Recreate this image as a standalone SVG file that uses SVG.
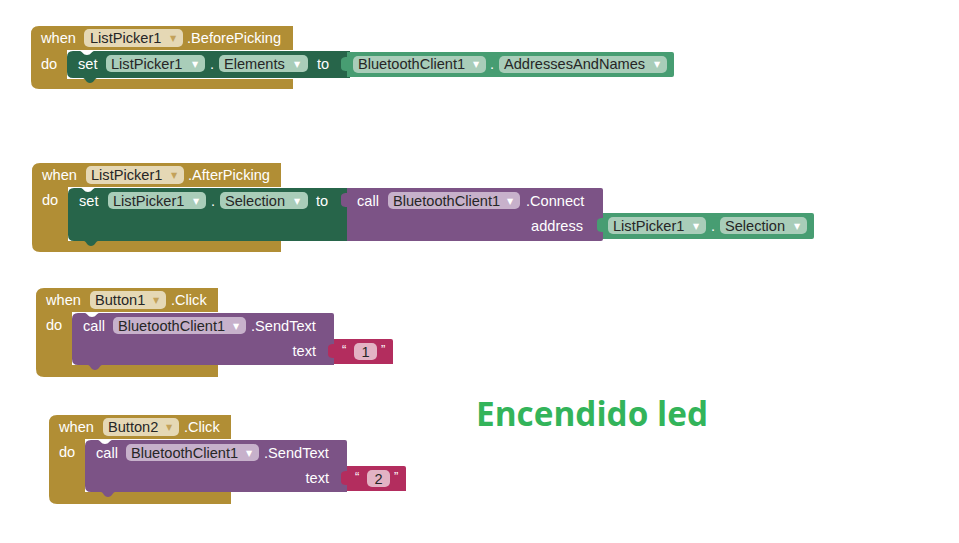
<svg xmlns="http://www.w3.org/2000/svg" width="959" height="543" viewBox="0 0 959 543">
<defs>
<style>
.ev{fill:#B18E35}
.dg{fill:#27654A}
.lg{fill:#479D72}
.pu{fill:#7C5386}
.pk{fill:#B32D5E}
.t{font-family:"Liberation Sans",Arial,sans-serif;font-size:14.6px;fill:#ffffff}
.pt{font-family:"Liberation Sans",Arial,sans-serif;font-size:14.6px;fill:#262626}
.ar{font-family:"DejaVu Sans",sans-serif;font-size:8px}
.pg{fill:#E5D8B5}
.pgr{fill:#A9CDB9}
.ppu{fill:#C7B1CB}
.ppk{fill:#E3B3C4}
.ag{fill:#C3A25A}
.aw{fill:#ffffff}
.q{font-family:"Liberation Sans",Arial,sans-serif;font-size:13px;fill:#ffffff}
</style>
</defs>
<rect width="959" height="543" fill="#ffffff"/>

<g id="event1">
<path class="ev" d="M39,26 H293 V50 H67 V79 H293 V89 H39 Q31,89 31,81 V34 Q31,26 39,26 Z"/>
<text class="t" x="41" y="43">when</text>
<rect class="pg" x="84" y="29" width="99" height="18" rx="5"/>
<text class="pt" x="90" y="43">ListPicker1</text>
<text class="ar ag" x="170" y="41">▼</text>
<text class="t" x="187" y="43">.BeforePicking</text>
<text class="t" x="41" y="69">do</text>
</g>
<g id="set1">
<path class="dg" d="M73,51 H80 C82,51 83,55 87,55 C91,55 92,51 94,51 H350 V78 H97 C95,78 94,83 90,83 C86,83 85,78 83,78 H73 Q67,78 67,72 V57 Q67,51 73,51 Z"/>
<text class="t" x="78" y="69">set</text>
<rect class="pgr" x="106" y="55" width="99" height="17" rx="5"/>
<text class="pt" x="111" y="69">ListPicker1</text>
<text class="ar aw" x="192" y="67">▼</text>
<text class="t" x="210" y="69">.</text>
<rect class="pgr" x="219" y="55" width="89" height="17" rx="5"/>
<text class="pt" x="224" y="69">Elements</text>
<text class="ar aw" x="294" y="67">▼</text>
<text class="t" x="317" y="69">to</text>
</g>
<g id="value1">
<path class="lg" d="M347,52 H672 Q674,52 674,54 V75 Q674,77 672,77 H347 V71 C343,71 341,70 341,67 V61 C341,58 343,57 347,57 Z"/>
<rect class="pgr" x="353" y="56" width="133" height="17" rx="5"/>
<text class="pt" x="358" y="69">BluetoothClient1</text>
<text class="ar aw" x="473" y="67">▼</text>
<text class="t" x="490" y="69">.</text>
<rect class="pgr" x="499" y="56" width="168" height="17" rx="5"/>
<text class="pt" x="504" y="69">AddressesAndNames</text>
<text class="ar aw" x="654" y="67">▼</text>
</g>

<g id="event2">
<path class="ev" d="M40,163 H281 V187 H68 V241 H281 V252 H40 Q32,252 32,244 V171 Q32,163 40,163 Z"/>
<text class="t" x="42" y="180">when</text>
<rect class="pg" x="86" y="166" width="98" height="18" rx="5"/>
<text class="pt" x="91" y="180">ListPicker1</text>
<text class="ar ag" x="171" y="178">▼</text>
<text class="t" x="188" y="180">.AfterPicking</text>
<text class="t" x="42" y="205">do</text>
</g>
<g id="set2">
<path class="dg" d="M74,188 H81 C83,188 84,192 88,192 C92,192 93,188 95,188 H350 V241 H98 C96,241 95,246 91,246 C87,246 86,241 84,241 H74 Q68,241 68,235 V194 Q68,188 74,188 Z"/>
<text class="t" x="79" y="206">set</text>
<rect class="pgr" x="108" y="192" width="98" height="17" rx="5"/>
<text class="pt" x="113" y="206">ListPicker1</text>
<text class="ar aw" x="193" y="204">▼</text>
<text class="t" x="211" y="206">.</text>
<rect class="pgr" x="220" y="192" width="88" height="17" rx="5"/>
<text class="pt" x="225" y="206">Selection</text>
<text class="ar aw" x="294" y="204">▼</text>
<text class="t" x="316" y="206">to</text>
</g>
<g id="call2">
<path class="pu" d="M347,188 H601 Q603,188 603,190 V239 Q603,241 601,241 H347 V207 C343,207 341,206 341,203 V197 C341,194 343,193 347,193 Z"/>
<text class="t" x="357" y="206">call</text>
<rect class="ppu" x="388" y="192" width="132" height="17" rx="5"/>
<text class="pt" x="393" y="206">BluetoothClient1</text>
<text class="ar aw" x="507" y="204">▼</text>
<text class="t" x="526" y="206">.Connect</text>
<text class="t" x="583" y="231" text-anchor="end">address</text>
</g>
<g id="value2">
<path class="lg" d="M603,213 H812 Q814,213 814,215 V237 Q814,239 812,239 H603 V232 C599,232 597,231 597,228 V222 C597,219 599,218 603,218 Z"/>
<rect class="pgr" x="608" y="217" width="98" height="17" rx="5"/>
<text class="pt" x="613" y="231">ListPicker1</text>
<text class="ar aw" x="693" y="229">▼</text>
<text class="t" x="711" y="231">.</text>
<rect class="pgr" x="720" y="217" width="87" height="17" rx="5"/>
<text class="pt" x="725" y="231">Selection</text>
<text class="ar aw" x="794" y="229">▼</text>
</g>

<g id="event3">
<path class="ev" d="M44,288 H218 V312 H72 V365 H218 V377 H44 Q36,377 36,369 V296 Q36,288 44,288 Z"/>
<text class="t" x="46" y="305">when</text>
<rect class="pg" x="90" y="291" width="76" height="18" rx="5"/>
<text class="pt" x="95" y="305">Button1</text>
<text class="ar ag" x="153" y="303">▼</text>
<text class="t" x="171" y="305">.Click</text>
<text class="t" x="46" y="330">do</text>
</g>
<g id="call3">
<path class="pu" d="M78,313 H85 C87,313 88,317 92,317 C96,317 97,313 99,313 H332 Q334,313 334,315 V365 H102 C100,365 99,370 95,370 C91,370 90,365 88,365 H78 Q72,365 72,359 V319 Q72,313 78,313 Z"/>
<text class="t" x="83" y="331">call</text>
<rect class="ppu" x="113" y="317" width="133" height="17" rx="5"/>
<text class="pt" x="118" y="331">BluetoothClient1</text>
<text class="ar aw" x="233" y="329">▼</text>
<text class="t" x="251" y="331">.SendText</text>
<text class="t" x="316" y="356" text-anchor="end">text</text>
</g>
<g id="text3">
<path class="pk" d="M334,339 H391 Q393,339 393,341 V364 H334 V358 C330,358 328,357 328,354 V348 C328,345 330,344 334,344 Z"/>
<text class="q" x="342" y="354">“</text>
<rect class="ppk" x="354" y="343" width="23" height="17" rx="5"/>
<text class="pt" x="365.5" y="357" text-anchor="middle">1</text>
<text class="q" x="381" y="354">”</text>
</g>

<g id="event4">
<path class="ev" d="M57,415 H231 V439 H85 V492 H231 V504 H57 Q49,504 49,496 V423 Q49,415 57,415 Z"/>
<text class="t" x="59" y="432">when</text>
<rect class="pg" x="103" y="418" width="76" height="18" rx="5"/>
<text class="pt" x="108" y="432">Button2</text>
<text class="ar ag" x="166" y="430">▼</text>
<text class="t" x="184" y="432">.Click</text>
<text class="t" x="59" y="457">do</text>
</g>
<g id="call4">
<path class="pu" d="M91,440 H98 C100,440 101,444 105,444 C109,444 110,440 112,440 H345 Q347,440 347,442 V492 H115 C113,492 112,497 108,497 C104,497 103,492 101,492 H91 Q85,492 85,486 V446 Q85,440 91,440 Z"/>
<text class="t" x="96" y="458">call</text>
<rect class="ppu" x="126" y="444" width="133" height="17" rx="5"/>
<text class="pt" x="131" y="458">BluetoothClient1</text>
<text class="ar aw" x="246" y="456">▼</text>
<text class="t" x="264" y="458">.SendText</text>
<text class="t" x="329" y="483" text-anchor="end">text</text>
</g>
<g id="text4">
<path class="pk" d="M347,466 H404 Q406,466 406,468 V491 H347 V485 C343,485 341,484 341,481 V475 C341,472 343,471 347,471 Z"/>
<text class="q" x="355" y="481">“</text>
<rect class="ppk" x="367" y="470" width="23" height="17" rx="5"/>
<text class="pt" x="378.5" y="484" text-anchor="middle">2</text>
<text class="q" x="394" y="481">”</text>
</g>

<g id="label">
<text x="476" y="426" font-family="'Open Sans','DejaVu Sans',sans-serif" font-weight="700" font-size="34" fill="#33B45A" textLength="232" lengthAdjust="spacingAndGlyphs">Encendido led</text>
</g>
<g id="connectors"></g>
</svg>
